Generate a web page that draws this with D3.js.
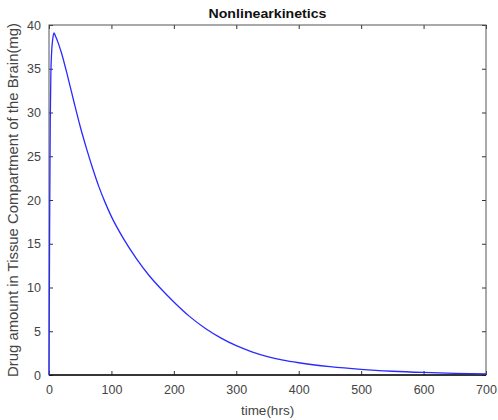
<!DOCTYPE html>
<html>
<head>
<meta charset="utf-8">
<script src="https://cdn.jsdelivr.net/npm/d3@7"></script>
<style>
  html, body { margin: 0; padding: 0; background: #fff; }
  svg { display: block; font-family: "Liberation Sans", Arial, sans-serif; }
</style>
</head>
<body>
<svg id="chart" width="498" height="420"></svg>
<script>
// Brain tissue compartment drug amount over time
const timeHrs = [0, 1, 2, 3, 4, 6, 8, 10, 15, 20, 30, 40, 50, 60, 70, 80, 90, 100,
  120, 140, 160, 180, 200, 225, 250, 275, 300, 325, 350, 375, 400, 450, 500, 550, 600, 650, 700];
const amountMg = [0, 17, 29, 34.5, 36.6, 38.4, 39.1, 38.8, 37.9, 36.8, 34.1, 31.2, 28.4, 25.9, 23.6, 21.5, 19.7, 18.1,
  15.5, 13.3, 11.4, 9.8, 8.35, 6.7, 5.35, 4.25, 3.35, 2.65, 2.1, 1.7, 1.4, 0.95, 0.64, 0.43, 0.29, 0.19, 0.13];
const xTicks = [0, 100, 200, 300, 400, 500, 600, 700];
const yTicks = [0, 5, 10, 15, 20, 25, 30, 35, 40];
const chartTitle = "Nonlinearkinetics";
const xTitle = "time(hrs)";
const yTitle = "Drug amount in Tissue Compartment of the Brain(mg)";

const svg = d3.select("#chart");
const m = { left: 49, right: 12, top: 25, bottom: 45 };
const W = 498, H = 420;

const x = d3.scaleLinear().domain([0, 700]).range([m.left, W - m.right]);
const y = d3.scaleLinear().domain([0, 40]).range([H - m.bottom, m.top]);

const tickLen = 4;
const axisColor = "#333";
const labelColor = "#444";

// inward-pointing ticks on all four sides
function styleAxis(g) {
  g.select(".domain").remove();
  g.selectAll(".tick line").attr("stroke", axisColor);
  g.selectAll(".tick text").attr("fill", labelColor).style("font-size", "12.5px");
}

svg.append("g")
  .attr("transform", `translate(0,${y(0)})`)
  .call(d3.axisBottom(x).tickValues(xTicks).tickSizeInner(-tickLen).tickSizeOuter(0).tickPadding(10))
  .call(styleAxis);

svg.append("g")
  .attr("transform", `translate(0,${y(40)})`)
  .call(d3.axisTop(x).tickValues(xTicks).tickSizeInner(-tickLen).tickSizeOuter(0).tickFormat(""))
  .call(styleAxis);

svg.append("g")
  .attr("transform", `translate(${x(0)},0)`)
  .call(d3.axisLeft(y).tickValues(yTicks).tickSizeInner(-tickLen).tickSizeOuter(0).tickPadding(8))
  .call(styleAxis);

svg.append("g")
  .attr("transform", `translate(${x(700)},0)`)
  .call(d3.axisRight(y).tickValues(yTicks).tickSizeInner(-tickLen).tickSizeOuter(0).tickFormat(""))
  .call(styleAxis);

// plot box
svg.append("rect")
  .attr("x", x(0)).attr("y", y(40))
  .attr("width", x(700) - x(0)).attr("height", y(0) - y(40))
  .attr("fill", "none").attr("stroke", "#555").attr("stroke-width", 1);

// heavier baseline
svg.append("line")
  .attr("x1", x(0)).attr("x2", x(700))
  .attr("y1", y(0)).attr("y2", y(0))
  .attr("stroke", "#111").attr("stroke-width", 1.6);

// curve
const line = d3.line().x((d, i) => x(timeHrs[i])).y(d => y(d)).curve(d3.curveMonotoneX);
svg.append("path")
  .datum(amountMg)
  .attr("d", line)
  .attr("fill", "none")
  .attr("stroke", "#2a2aff")
  .attr("stroke-width", 1.3);

// titles
svg.append("text")
  .attr("x", (x(0) + x(700)) / 2).attr("y", 18)
  .attr("text-anchor", "middle")
  .style("font-size", "13px").style("font-weight", "bold")
  .attr("textLength", 118)
  .attr("lengthAdjust", "spacingAndGlyphs")
  .attr("fill", "#111")
  .text(chartTitle);

svg.append("text")
  .attr("x", (x(0) + x(700)) / 2).attr("y", 415)
  .attr("text-anchor", "middle")
  .style("font-size", "13.5px")
  .attr("fill", labelColor)
  .text(xTitle);

svg.append("text")
  .attr("transform", `translate(18,200) rotate(-90)`)
  .attr("text-anchor", "middle")
  .style("font-size", "14px")
  .attr("textLength", 354)
  .attr("lengthAdjust", "spacingAndGlyphs")
  .attr("fill", labelColor)
  .text(yTitle);
</script>
</body>
</html>
